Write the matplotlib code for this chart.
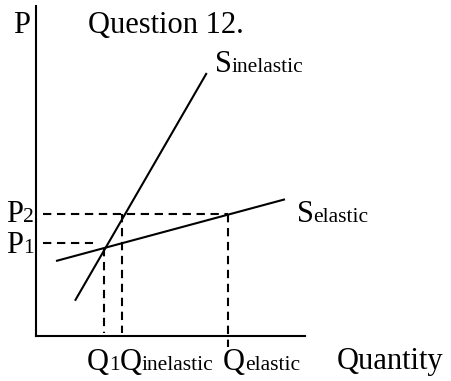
import matplotlib
matplotlib.use("Agg")
from matplotlib import pyplot as plt

plt.rcParams['font.family'] = ['Liberation Serif', 'DejaVu Serif']

# Supply curves, endpoints in diagram units (quantity, price)
inelastic_q = [39, 170.7]
inelastic_p = [35.3, 263]
elastic_q = [20, 249]
elastic_p = [75, 136.7]

# Equilibrium prices and quantities
p1, p2 = 92.7, 122
q1, q_inel, q_el = 68.3, 85.7, 192.3

BIG = 22
SMALL = 15.5

fig = plt.figure(figsize=(4.51, 3.81), dpi=100)
ax = fig.add_axes([36 / 451, 45 / 381, 269 / 451, 330 / 381])
ax.set_xlim(0, 269)
ax.set_ylim(0, 330)
for side in ("top", "right"):
    ax.spines[side].set_visible(False)
for side in ("left", "bottom"):
    ax.spines[side].set_linewidth(1.5)
ax.set_xticks([])
ax.set_yticks([])
ax.patch.set_alpha(0)

# supply curves
ax.plot(inelastic_q, inelastic_p, color="black", lw=1.5, solid_capstyle="butt")
ax.plot(elastic_q, elastic_p, color="black", lw=1.5, solid_capstyle="butt")

# dashed guide lines
dash = dict(color="black", lw=1.5, linestyle=(0, (4, 2.7)), clip_on=False)
ax.plot([7, 57], [p1, p1], **dash)
ax.plot([7, q_el], [p2, p2], **dash)
ax.plot([q1, q1], [87.7, 3], **dash)
ax.plot([q_inel, q_inel], [p2, 3], **dash)
ax.plot([q_el, q_el], [p2, -11], **dash)

renderer = fig.canvas.get_renderer()


# write text pieces one after another on the same baseline
def chain(x, y, parts):
    for s, size in parts:
        t = ax.text(x, y, s, fontsize=size, va="baseline", ha="left", clip_on=False)
        bb = t.get_window_extent(renderer)
        x = ax.transData.inverted().transform((bb.x1, bb.y0))[0]


chain(-23, 303, [("P", BIG)])
chain(52, 303, [("Question 12.", BIG)])
chain(179, 264, [("S", BIG), ("inelastic", SMALL)])
chain(260.7, 114.3, [("S", BIG), ("elastic", SMALL)])
chain(-30, 114, [("P", BIG), ("2", SMALL)])
chain(-30, 83.3, [("P", BIG), ("1", SMALL)])
chain(51, -34, [("Q", BIG), ("1", SMALL), ("Q", BIG), ("inelastic", SMALL)])
chain(187, -34, [("Q", BIG), ("elastic", SMALL)])
chain(301, -33, [("Quantity", BIG)])

fig.savefig("out.png", dpi=100)
